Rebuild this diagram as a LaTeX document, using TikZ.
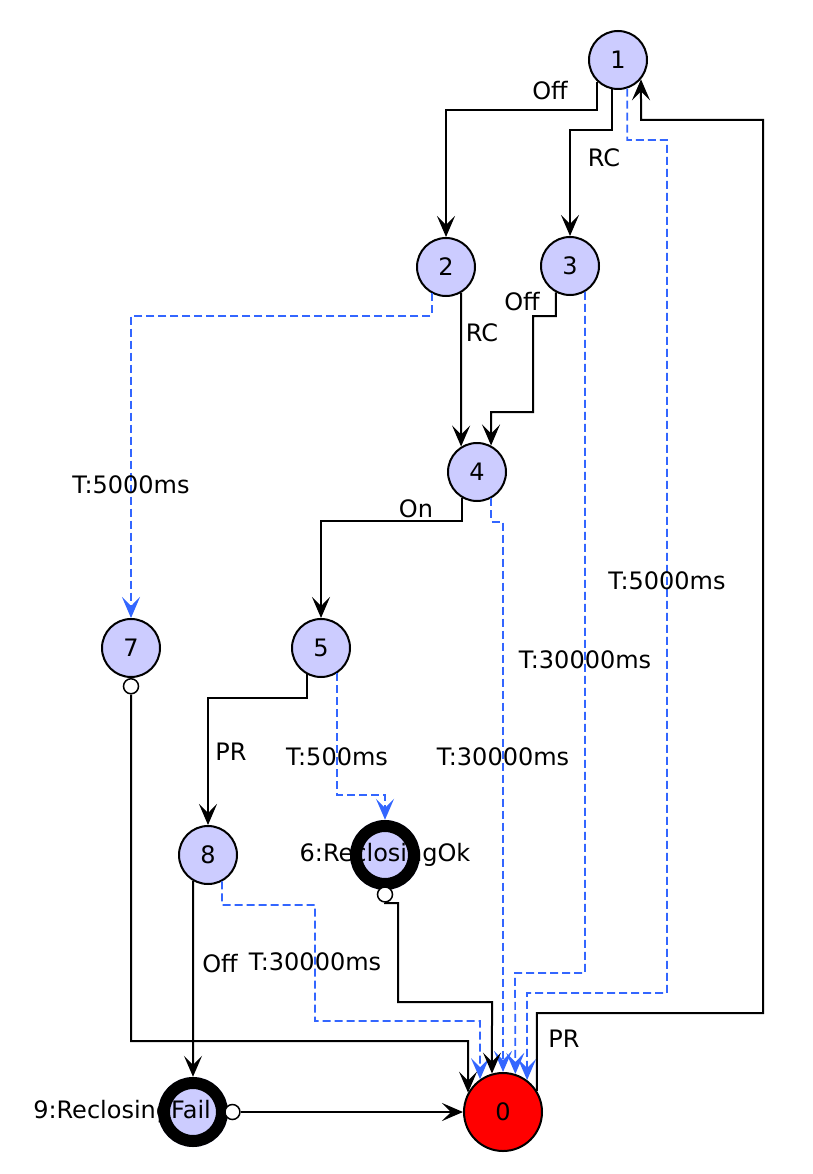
\documentclass[tikz,border=0pt]{standalone}
\usepackage{fontspec}
\setmainfont{DejaVu Sans}
\usetikzlibrary{arrows.meta, positioning}
\definecolor{lavender}{RGB}{204,204,255}
\definecolor{timerblue}{RGB}{51,102,255}
\definecolor{signalred}{RGB}{255,0,0}

\begin{document}
\begin{tikzpicture}[x=1pt, y=-1pt,
    font=\fontsize{24}{29}\selectfont,
    state/.style={circle, draw=black, line width=2pt, fill=lavender, minimum size=58pt, inner sep=0pt},
    endstate/.style={circle, fill=lavender, minimum size=70pt, inner sep=0pt},
    ring/.style={draw=black, line width=12pt},
    marker/.style={circle, draw=black, line width=1.5pt, fill=white, minimum size=15pt, inner sep=0pt},
    trans/.style={draw=black, line width=2pt, -{Stealth[length=21pt, width=18pt, inset=9pt]}},
    timer/.style={draw=timerblue, line width=1.7pt, dash pattern=on 8pt off 4pt, -{Stealth[length=21pt, width=18pt, inset=9pt]}},
    lbl/.style={inner sep=0pt}]
        \useasboundingbox (0,0) rectangle (812,1174);

        % States
        \node[state] (n1) at (618,60) {1};
        \node[state] (n2) at (446,267) {2};
        \node[state] (n3) at (570,266) {3};
        \node[state] (n4) at (477,472) {4};
        \node[state] (n5) at (321,648) {5};
        \node[state] (n7) at (131,648) {7};
        \node[state] (n8) at (208,855) {8};
        \node[state, fill=signalred, minimum size=78pt] (n0) at (503,1112) {0};

        % Final states
        \node[endstate] (n6) at (385,855) {};
        \node[lbl] (t6) at (n6) {6:ReclosingOk};
        \draw[ring] (n6.center) circle (29pt);
        \node[endstate] (n9) at (193,1112) {};
        \node[lbl, anchor=east] (t9) at (211,1112) {9:ReclosingFail};
        \draw[ring] (n9.center) circle (29pt);

        % Markers
        \node[marker, below=0pt of n7] (o7) {};
        \node[marker, below=-4pt of n6] (o6) {};
        \node[marker, right=-4pt of n9] (o9) {};

        % Transitions
        \draw[trans] (n1.226) |- (446,110) -- (n2);
        \draw[trans] (n1.258) |- (570,130) -- (n3);
        \draw[timer] (n1.288) |- (667,140) |- (527,993) -- (n0.53);
        \draw[trans] (n0.32) |- (763,1013) |- (641,120) -- (n1.320);
        \draw[trans] (n2.300) -- (n4.122);
        \draw[timer] (n2.242) |- (131,316) -- (n7);
        \draw[trans] (n3.242) |- (533,316) |- (491,412) -- (n4.62);
        \draw[timer] (n3.300) |- (515,973) -- (n0.72);
        \draw[trans] (n4.240) |- (321,521) -- (n5);
        \draw[timer] (n4.298) |- (503,522) -- (n0);
        \draw[trans] (n5.242) |- (208,698) -- (n8);
        \draw[timer] (n5.302) |- (385,795) -- (n6);
        \draw[timer] (n8.298) |- (315,905) |- (480,1021) -- (n0.125);
        \draw[trans] (n8.240) -- (n9);
        \draw[trans] (o7) |- (468,1041) -- (n0.151);
        \draw[trans] (o6) |- (398,903) |- (492,1002) -- (n0.106);
        \draw[trans] (o9) -- (n0);

        % Labels
        \node[lbl] (l12) at (550,91) {Off};
        \node[lbl] (l13) at (604,158) {RC};
        \node[lbl] (l10) at (667,581) {T:5000ms};
        \node[lbl] (l01) at (564,1039) {PR};
        \node[lbl] (l24) at (482,333) {RC};
        \node[lbl] (l34) at (522,302) {Off};
        \node[lbl] (l27) at (131,485) {T:5000ms};
        \node[lbl] (l30) at (585,660) {T:30000ms};
        \node[lbl] (l40) at (503,757) {T:30000ms};
        \node[lbl] (l45) at (416,509) {On};
        \node[lbl] (l58) at (231,752) {PR};
        \node[lbl] (l56) at (337,757) {T:500ms};
        \node[lbl] (l89) at (220,964) {Off};
        \node[lbl] (l80) at (315,962) {T:30000ms};
    \end{tikzpicture}
\end{document}
